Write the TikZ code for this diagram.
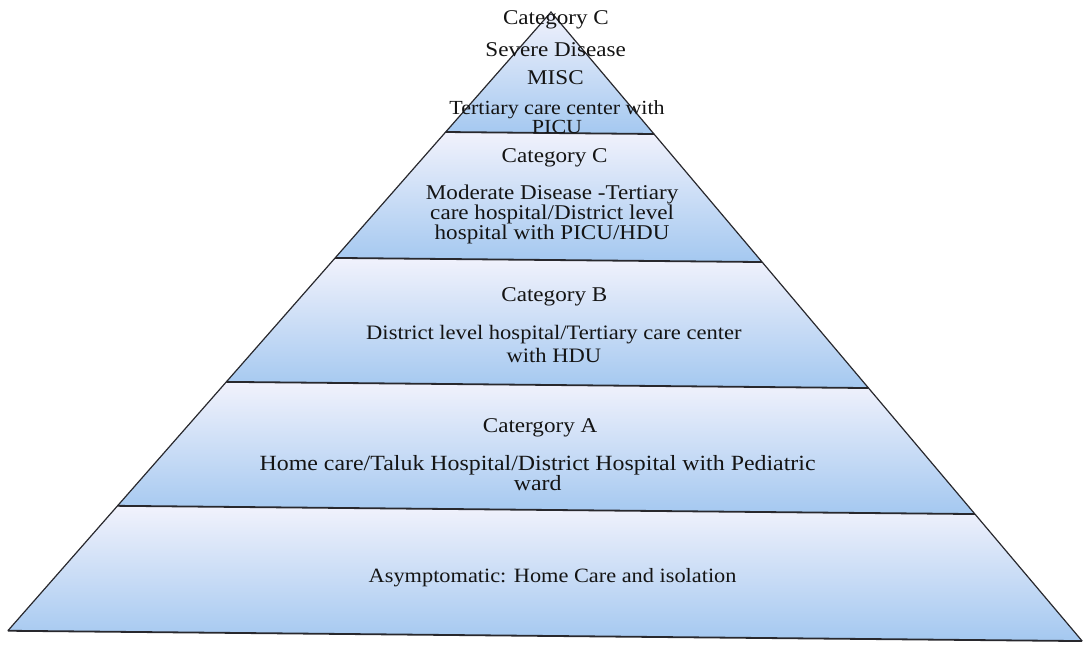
\documentclass[tikz,border=0pt]{standalone}
\usepackage{fontspec}
\setmainfont{Liberation Serif}[FakeStretch=1.1]
\usepackage{tikz}
\usetikzlibrary{positioning}
\definecolor{bandtop}{RGB}{241,242,252}
\definecolor{bandbot}{RGB}{164,200,240}
\definecolor{edgeclr}{RGB}{40,40,45}
\definecolor{txtclr}{RGB}{20,20,20}
\tikzstyle{band}=[top color=bandtop,bottom color=bandbot]
\tikzstyle{rim}=[draw=edgeclr,line width=1.2pt,line join=miter]
\tikzstyle{sep}=[draw=edgeclr,line width=1.8pt]
\tikzstyle{lbl}=[text=txtclr,align=center,inner sep=0pt,font=\fontsize{21}{18}\selectfont]

\begin{document}
\begin{tikzpicture}[x=1pt,y=-1pt]
\useasboundingbox (0,0) rectangle (1087,648);
\begin{scope}[rotate around={-0.55:(548,330)}]

% bands
\foreach \ya/\yb in {12/133,133/260,260/385,385/510,510/636}{
  \shade[band] ({548-0.861*(\ya-12)},\ya) -- ({548+0.861*(\ya-12)},\ya)
    -- ({548+0.861*(\yb-12)},\yb) -- ({548-0.861*(\yb-12)},\yb) -- cycle;
}

% outline and separators
\coordinate (apex) at (548,12);
\foreach \y/\n in {133/a,260/b,385/c,510/d,636/e}{
  \coordinate (l\n) at ({548-0.861*(\y-12)},\y);
  \coordinate (r\n) at ({548+0.861*(\y-12)},\y);
}
\draw[rim] (le) -- (apex) -- (re);
\foreach \n in {a,b,c,d,e}{
  \draw[sep] (l\n) -- (r\n);
}

% texts
\node[lbl] (t1) at (553,20) {Category C};
\node[lbl] (t2) at (553,50) {Severe Disease};
\node[lbl] (t3) at (553,78) {MISC};
\node[lbl,font=\fontsize{20}{17}\selectfont] (t4) at (555,117) {Tertiary care center with\\PICU};
\node[lbl] (m1) at (553,158) {Category C};
\node[lbl,font=\fontsize{21}{17.5}\selectfont] (m2) at (551,214) {Moderate Disease -Tertiary\\care hospital/District level\\hospital with PICU/HDU};
\node[lbl] (b1) at (554,297) {Category B};
\node[lbl,font=\fontsize{20.5}{23}\selectfont] (b2) at (554,344) {District level hospital/Tertiary care center\\with HDU};
\node[lbl] (a1) at (541,428) {Catergory A};
\node[lbl,font=\fontsize{21.7}{20}\selectfont] (a2) at (539,473) {Home care/Taluk Hospital/District Hospital with Pediatric\\ward};
\node[lbl,font=\fontsize{20.3}{18}\selectfont] (z1) at (555,578) {Asymptomatic: Home Care and isolation};
\end{scope}
\end{tikzpicture}
\end{document}
